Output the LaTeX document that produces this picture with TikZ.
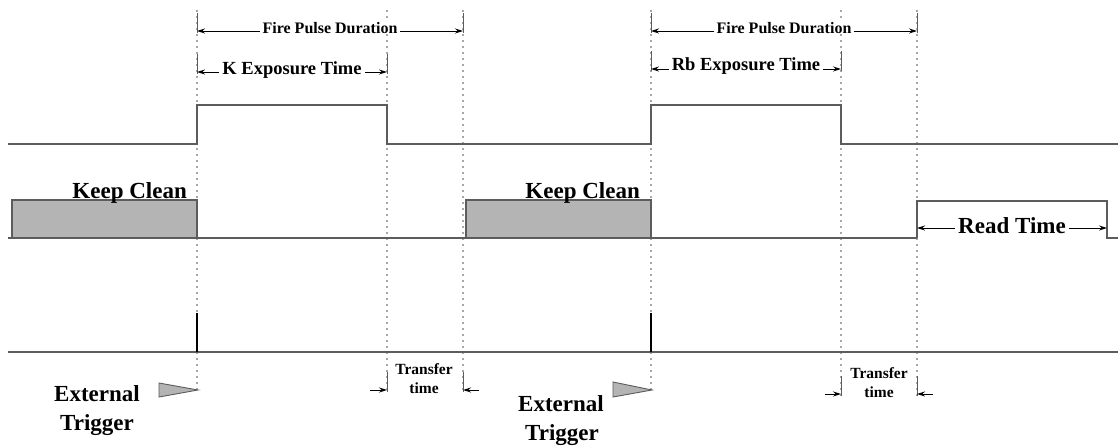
\documentclass[tikz,border=0pt]{standalone}
\usepackage{fontspec}
\setmainfont{Liberation Serif}
\usetikzlibrary{arrows.meta}
\definecolor{linegray}{HTML}{5C5C5C}
\definecolor{shade}{HTML}{B4B4B4}
\begin{document}
\begin{tikzpicture}[x=1pt,y=-1pt,
  signal/.style={draw=linegray,line width=1.4pt,line join=miter},
  guide/.style={draw=black!70,line width=1.7pt,line cap=round,dash pattern=on 0pt off 6pt},
  tickmark/.style={draw=linegray,line width=0.8pt},
  spike/.style={draw=black,line width=2.6pt},
  dimone/.style={-{Stealth[length=8pt,width=5pt]},line width=1pt,draw=black},
  dimtwo/.style={{Stealth[length=8pt,width=5pt]}-{Stealth[length=8pt,width=5pt]},line width=1pt,draw=black},
  lbl/.style={font=\bfseries\fontsize{#1}{#1}\selectfont,inner xsep=3pt,inner ysep=1pt,anchor=base},
  gap/.style={fill=white},
  flag/.style={draw=linegray,fill=shade,line width=0.9pt,line join=miter}
]
\useasboundingbox (0,0) rectangle (1118,447);

% vertical timing guides
\foreach \x/\yb in {197/390,387/392,463/392,651/390,841/395,917/395}
  \draw[guide] (\x,11) -- (\x,\yb);

% shutter signal
\draw[signal] (8,144) -- (197,144) -- (197,105) -- (387,105) -- (387,144)
  -- (651,144) -- (651,105) -- (841,105) -- (841,144) -- (1118,144);

% sensor signal: keep clean phases and readout
\draw[signal] (8,238) -- (917,238);
\draw[signal,fill=shade] (12,238) rectangle (197,200);
\draw[signal,fill=shade] (466,238) rectangle (651,200);
\draw[signal] (917,238) -- (917,201) -- (1107,201) -- (1107,238) -- (1118,238);

% trigger signal
\draw[signal] (8,352) -- (1118,352);
\draw[spike] (197,313) -- (197,352);
\draw[spike] (651,313) -- (651,352);

% short solid ends of the dimension lines
\foreach \x/\y in {197/31,463/31,197/72,387/72,651/31,917/31,651/69,841/69,387/390,463/390,841/394,917/394}
  \draw[tickmark] (\x,\y-18) -- (\x,\y+2);

% dimension coordinates
\coordinate (fpAl) at (197,31);  \coordinate (fpAr) at (463,31);
\coordinate (fpBl) at (651,31);  \coordinate (fpBr) at (917,31);
\coordinate (exAl) at (197,72);  \coordinate (exAr) at (387,72);
\coordinate (exBl) at (651,69);  \coordinate (exBr) at (841,69);
\coordinate (rdl) at (917,228);  \coordinate (rdr) at (1107,228);
\coordinate (trAla) at (370,390); \coordinate (trAlb) at (387,390);
\coordinate (trAra) at (479,390); \coordinate (trArb) at (463,390);
\coordinate (trBla) at (825,394); \coordinate (trBlb) at (841,394);
\coordinate (trBra) at (933,394); \coordinate (trBrb) at (917,394);

\draw[dimtwo] (fpAl) -- (fpAr);
\draw[dimtwo] (fpBl) -- (fpBr);
\draw[dimtwo] (exAl) -- (exAr);
\draw[dimtwo] (exBl) -- (exBr);
\draw[dimtwo] (rdl) -- (rdr);
\draw[dimone] (trAla) -- (trAlb);
\draw[dimone] (trAra) -- (trArb);
\draw[dimone] (trBla) -- (trBlb);
\draw[dimone] (trBra) -- (trBrb);

% dimension labels
\node[lbl=16,gap] (fpA) at (330,33) {Fire Pulse Duration};
\node[lbl=16,gap] (fpB) at (784,33) {Fire Pulse Duration};
\node[lbl=18.5,gap] (exA) at (292,74) {K Exposure Time};
\node[lbl=18.5,gap] (exB) at (746,70) {Rb Exposure Time};
\node[lbl=23,gap] (rd) at (1012,233) {Read Time};

% phase labels
\node[lbl=23,anchor=base east] (kcA) at (190,198) {Keep Clean};
\node[lbl=23,anchor=base east] (kcB) at (643,198) {Keep Clean};

\node[lbl=15.5] (trA1) at (424,374) {Transfer};
\node[lbl=15.5] (trA2) at (424,393) {time};
\node[lbl=15.5] (trB1) at (879,378) {Transfer};
\node[lbl=15.5] (trB2) at (879,397) {time};

% trigger markers
\coordinate (tgA) at (198,390);
\coordinate (tgB) at (652,390);
\draw[flag] (159,383) -- (tgA) -- (159,397) -- cycle;
\draw[flag] (613,382) -- (tgB) -- (613,397) -- cycle;

\node[lbl=23] (etA1) at (97,401) {External};
\node[lbl=23] (etA2) at (97,430) {Trigger};
\node[lbl=23] (etB1) at (561,411) {External};
\node[lbl=23] (etB2) at (562,440) {Trigger};
\end{tikzpicture}
\end{document}
